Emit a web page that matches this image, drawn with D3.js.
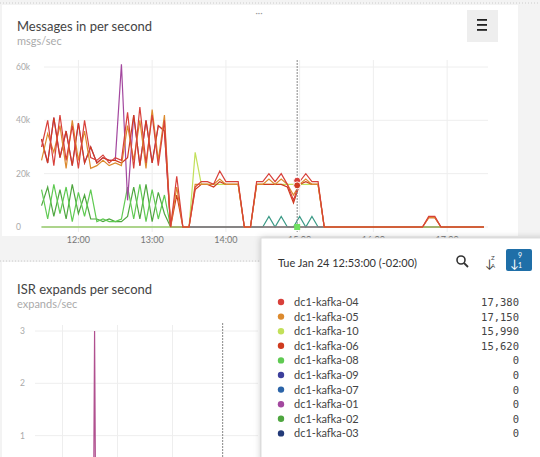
<!DOCTYPE html>
<html>
<head>
<meta charset="utf-8">
<script src="https://cdn.jsdelivr.net/npm/d3@7"></script>
<style>
  body { margin: 0; background: #f3f3f3; font-family: Lato, "Open Sans", sans-serif; }
  svg { display: block; }
</style>
</head>
<body>
<svg id="chart" width="540" height="457"></svg>
<script>
// ---------- Data (k msgs/sec, 5-minute steps from 11:30) ----------
const startMinute = 11 * 60 + 30;
const stepMinutes = 5;

const kafka04 = [30,40,23,42,25,38,22,40,26, 25,27,24,26,25, 43,22,45,24,42,23,40,
  0,19,0,0, 15,17,17,16,21,17,17,17, 0,0, 17,17,20,17,20,16,10,17,20,17,17,
  0,0,0,0,0,0,0,0,0,0,0,0,0,0,0,0,0, 4,4, 0,0,0,0,0,0,0,0];
const kafka05 = [25,35,28,38,22,40,25,36,22, 23,25,23,24,23, 38,25,40,22,44,25,42,
  0,15,0,0, 16,16,16,16,18,16,16,16, 0,0, 16,16,18,16,18,16,12,16,18,16,16,
  0,0,0,0,0,0,0,0,0,0,0,0,0,0,0,0,0, 3.5,3.5, 0,0,0,0,0,0,0,0];
const kafka06 = [33,24,41,26,36,23,39,24,30, 24,26,25,25,24, 26,42,23,40,24,38,36,
  0,12,0,0, 14,16,16,15,17,16,16,16, 0,0, 16,16,16,16,16,15,9,16,17,16,16,
  0,0,0,0,0,0,0,0,0,0,0,0,0,0,0,0,0, 3.5,3.5, 0,0,0,0,0,0,0,0];
const kafka10 = [0,0,0,0,0,0,0,0,0, 0,0,0,0,0, 0,0,0,0,0,0,0,
  0,0,0,0, 28,16,16,16,16,16,16,16, 0,0, 16,16,16,16,16,16,16,16,16,16,16,
  0,0,0,0,0,0,0,0,0,0,0,0,0,0,0,0,0, 0,0, 0,0,0,0,0,0,0,0];
const kafka01 = [33,24,41,26,36,23,39,24,30, 24,26,25,25,61, 10,42,23,40,24,38,36,
  0,0,0,0, 0,0,0,0,0,0,0,0, 0,0, 0,0,0,0,0,0,0,0,0,0,0,
  0,0,0,0,0,0,0,0,0,0,0,0,0,0,0,0,0, 0,0, 0,0,0,0,0,0,0,0];
const kafka08 = [14,3,16,5,15,2,13,4,14, 2,3,2,2,3, 15,3,16,2,14,3,12,
  0,0,0,0, 0,0,0,0,0,0,0,0, 0,0, 0,0,0,0,0,0,0,0,0,0,0,
  0,0,0,0,0,0,0,0,0,0,0,0,0,0,0,0,0, 0,0, 0,0,0,0,0,0,0,0];
const kafka02 = [8,15,4,14,3,16,5,12,3, 3,2,3,2,2, 4,15,3,16,2,13,5,
  0,0,0,0, 0,0,0,0,0,0,0,0, 0,0, 0,0,0,0,0,0,0,0,0,0,0,
  0,0,0,0,0,0,0,0,0,0,0,0,0,0,0,0,0, 0,0, 0,0,0,0,0,0,0,0];
const kafka07 = [0,0,0,0,0,0,0,0,0, 0,0,0,0,0, 0,0,0,0,0,0,0,
  0,0,0,0, 0,0,0,0,0,0,0,0, 0,0, 0,0,4,0,4,0,0,4,0,4,0,
  0,0,0,0,0,0,0,0,0,0,0,0,0,0,0,0,0, 0,0, 0,0,0,0,0,0,0,0];

const yTicks = [0, 20, 40, 60];
const xTickHours = [12, 13, 14, 15, 16, 17];

// ISR expands: [minute of day, value]
const isrPoints = [[690, 0], [754, 0], [755, 3], [756, 0], [1050, 0]];
const isrTicks = [1, 2, 3];

// Tooltip legend
const legendNames = ['dc1-kafka-04','dc1-kafka-05','dc1-kafka-10','dc1-kafka-06','dc1-kafka-08',
  'dc1-kafka-09','dc1-kafka-07','dc1-kafka-01','dc1-kafka-02','dc1-kafka-03'];
const legendValues = ['17,380','17,150','15,990','15,620','0','0','0','0','0','0'];
const legendColors = ['#d8403a','#dc8a2e','#c2e05a','#cf3b1f','#5fca52',
  '#3c3f9c','#2b64a8','#a3489f','#4ea63f','#233a78'];

// ---------- Drawing ----------
const svg = d3.select('#chart');

// cards
svg.append('rect').attr('x', 2).attr('y', 5).attr('width', 516).attr('height', 231).attr('fill', '#fff');
svg.append('line').attr('x1', 0).attr('x2', 540).attr('y1', 3).attr('y2', 3)
  .attr('stroke', '#ccc').attr('stroke-dasharray', '1,2');
svg.append('rect').attr('x', 2).attr('y', 262).attr('width', 258).attr('height', 200).attr('fill', '#fff');
svg.append('line').attr('x1', 0).attr('x2', 262).attr('y1', 261).attr('y2', 261)
  .attr('stroke', '#ccc').attr('stroke-dasharray', '1,2');
svg.append('text').attr('x', 259).attr('y', 16).attr('font-size', 9).attr('fill', '#999')
  .attr('text-anchor', 'middle').text('···');

// titles
svg.append('text').attr('x', 17).attr('y', 31).attr('font-size', 13).attr('fill', '#444').text('Messages in per second');
svg.append('text').attr('x', 17).attr('y', 45).attr('font-size', 11).attr('fill', '#aaa').text('msgs/sec');
svg.append('text').attr('x', 17).attr('y', 294).attr('font-size', 13).attr('fill', '#444').text('ISR expands per second');
svg.append('text').attr('x', 17).attr('y', 308).attr('font-size', 11).attr('fill', '#aaa').text('expands/sec');

// hamburger
svg.append('rect').attr('x', 467).attr('y', 10).attr('width', 31).attr('height', 32).attr('fill', '#eee');
[20, 25, 30].forEach(y => svg.append('rect').attr('x', 477).attr('y', y - 1).attr('width', 10).attr('height', 1.8).attr('fill', '#222'));

// top chart
const toDate = m => new Date(2017, 0, 24, 0, m);
const times = kafka04.map((d, i) => toDate(startMinute + i * stepMinutes));
const x = d3.scaleTime().domain([toDate(11 * 60 + 32), toDate(17 * 60 + 30)]).range([44, 484]);
const y = d3.scaleLinear().domain([0, 60]).range([227, 67]);

const gTop = svg.append('g');
gTop.selectAll('.hg').data(yTicks).join('line')
  .attr('x1', 44).attr('x2', 488).attr('y1', d => y(d)).attr('y2', d => y(d)).attr('stroke', '#eee');
gTop.selectAll('.vg').data(xTickHours).join('line')
  .attr('x1', d => x(toDate(d * 60))).attr('x2', d => x(toDate(d * 60)))
  .attr('y1', 60).attr('y2', 232).attr('stroke', '#eee');
gTop.selectAll('.yl').data(yTicks).join('text')
  .attr('x', 16).attr('y', d => y(d) + 3).attr('font-size', 8.5).attr('fill', '#aaa')
  .text(d => d === 0 ? '0' : d + 'k');
gTop.selectAll('.xl').data(xTickHours).join('text')
  .attr('x', d => x(toDate(d * 60))).attr('y', 243).attr('text-anchor', 'middle')
  .attr('font-size', 9).attr('fill', '#777').text(d => d + ':00');

const line = d3.line().x((d, i) => x(times[i])).y(d => y(d));
const series = [
  [kafka07, '#3a9a86'], [kafka02, '#4ea63f'], [kafka08, '#5fca52'], [kafka01, '#a3489f'],
  [kafka10, '#c2e05a'], [kafka06, '#cf3b1f'], [kafka05, '#dc8a2e'], [kafka04, '#d8403a']
];
gTop.selectAll('.s').data(series).join('path')
  .attr('d', d => line(d[0])).attr('fill', 'none').attr('stroke', d => d[1]).attr('stroke-width', 1.2);

// crosshair
const cross = toDate(14 * 60 + 58);
svg.append('line').attr('x1', x(cross)).attr('x2', x(cross)).attr('y1', 60).attr('y2', 232)
  .attr('stroke', '#888').attr('stroke-dasharray', '2,1');
[[17.38, '#d8403a'], [15.62, '#cf3b1f']].forEach(([v, c]) =>
  svg.append('circle').attr('cx', x(cross)).attr('cy', y(v)).attr('r', 3.5).attr('fill', c).attr('stroke', '#fff'));
svg.append('rect').attr('x', x(cross) - 3).attr('y', y(0) - 3).attr('width', 6).attr('height', 6).attr('fill', '#6fe060');

// bottom chart
const x2 = d3.scaleTime().domain([toDate(11 * 60 + 30), toDate(15 * 60 + 30)]).range([35, 255]);
const y2 = d3.scaleLinear().domain([0, 3]).range([488, 331]);
svg.selectAll('.hg2').data(isrTicks).join('line')
  .attr('x1', 35).attr('x2', 258).attr('y1', d => y2(d)).attr('y2', d => y2(d)).attr('stroke', '#eee');
svg.selectAll('.vg2').data([12, 13, 14]).join('line')
  .attr('x1', d => x2(toDate(d * 60))).attr('x2', d => x2(toDate(d * 60)))
  .attr('y1', 325).attr('y2', 457).attr('stroke', '#eee');
svg.selectAll('.yl2').data(isrTicks).join('text')
  .attr('x', 20).attr('y', d => y2(d) + 3).attr('font-size', 8.5).attr('fill', '#aaa').text(d => d);
svg.append('line').attr('x1', x2(cross) - 3).attr('x2', x2(cross) - 3).attr('y1', 323).attr('y2', 457)
  .attr('stroke', '#888').attr('stroke-dasharray', '2,1');
svg.append('path')
  .attr('d', d3.line().x(d => x2(toDate(d[0]))).y(d => y2(d[1]))(isrPoints))
  .attr('fill', 'none').attr('stroke', '#b0508f').attr('stroke-width', 1.2);

// tooltip
const tip = svg.append('g');
tip.append('rect').attr('x', 261).attr('y', 238).attr('width', 285).attr('height', 225)
  .attr('fill', '#fff').attr('stroke', '#ddd').style('filter', 'drop-shadow(0 0 3px rgba(0,0,0,0.2))');
tip.append('text').attr('x', 278).attr('y', 267).attr('font-size', 11).attr('fill', '#333')
  .text('Tue Jan 24 12:53:00 (-02:00)');
tip.append('circle').attr('cx', 461).attr('cy', 260).attr('r', 4).attr('fill', 'none').attr('stroke', '#333').attr('stroke-width', 1.6);
tip.append('line').attr('x1', 464).attr('y1', 263).attr('x2', 468).attr('y2', 267).attr('stroke', '#333').attr('stroke-width', 1.8);
tip.append('text').attr('x', 485).attr('y', 268).attr('font-size', 12).attr('fill', '#444').text('↓');
tip.append('text').attr('x', 491).attr('y', 260).attr('font-size', 6).attr('fill', '#444').text('Z');
tip.append('text').attr('x', 491).attr('y', 268).attr('font-size', 6).attr('fill', '#444').text('A');
tip.append('rect').attr('x', 506).attr('y', 249).attr('width', 26).attr('height', 22).attr('rx', 2).attr('fill', '#1f6fa8');
tip.append('text').attr('x', 510).attr('y', 268).attr('font-size', 12).attr('fill', '#fff').text('↓');
tip.append('text').attr('x', 518).attr('y', 258).attr('font-size', 7).attr('fill', '#fff').text('9');
tip.append('text').attr('x', 518).attr('y', 268).attr('font-size', 7).attr('fill', '#fff').text('1');

const rows = tip.selectAll('.row').data(legendNames).join('g')
  .attr('transform', (d, i) => `translate(0, ${302 + i * 14.6})`);
rows.append('circle').attr('cx', 281).attr('cy', 0).attr('r', 3.2).attr('fill', (d, i) => legendColors[i]);
rows.append('text').attr('x', 294).attr('y', 4).attr('font-size', 11).attr('fill', '#444').text(d => d);
rows.append('text').attr('x', 519).attr('y', 4).attr('font-size', 10.5).attr('text-anchor', 'end')
  .attr('font-family', '"DejaVu Sans Mono", monospace').attr('fill', '#444').text((d, i) => legendValues[i]);
</script>
</body>
</html>
